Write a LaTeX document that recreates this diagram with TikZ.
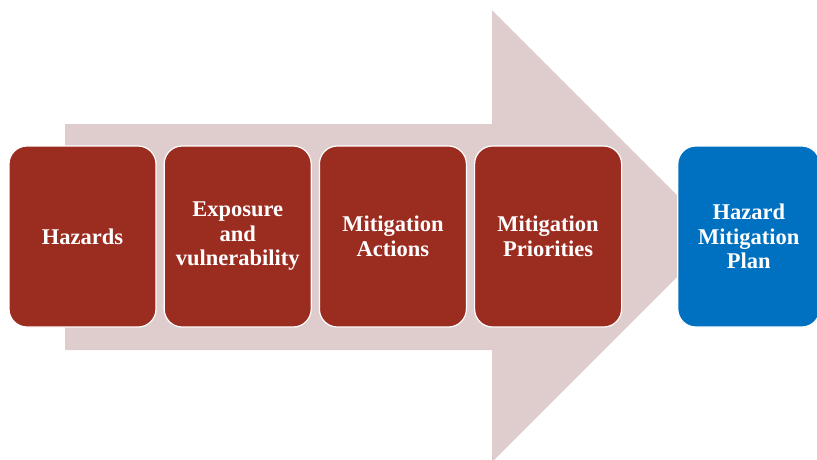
\documentclass[tikz,border=0pt]{standalone}
\usepackage{fontspec}
\setmainfont{Liberation Serif}
\usetikzlibrary{positioning}

\definecolor{stepred}{HTML}{9B2C20}
\definecolor{planblue}{HTML}{0070C0}
\definecolor{arrowpink}{HTML}{DFCDCD}

\begin{document}
\begin{tikzpicture}[x=1pt, y=-1pt,
  box/.style={rectangle, rounded corners=18pt, draw=white, line width=1.2pt,
    fill=stepred, text=white, minimum width=147pt, minimum height=181pt,
    align=center, font=\fontsize{22.5}{24.5}\selectfont\bfseries, inner sep=2pt},
  planbox/.style={box, fill=planblue, minimum width=142pt}]
\useasboundingbox (0,0) rectangle (817,459);

% big background arrow
\fill[arrowpink] (65,124) -- (492,124) -- (492,10) -- (718,236) -- (492,462)
  -- (492,350) -- (65,350) -- cycle;

\node[box] (hazards) at (82.5,236.5) {Hazards};
\node[box, right=7pt of hazards] (exposure) {Exposure\\and\\vulnerability};
\node[box, right=7pt of exposure] (actions) {Mitigation\\Actions};
\node[box, right=7pt of actions] (priorities) {Mitigation\\Priorities};
\node[planbox, right=55pt of priorities] (plan) {Hazard\\Mitigation\\Plan};
\end{tikzpicture}
\end{document}
